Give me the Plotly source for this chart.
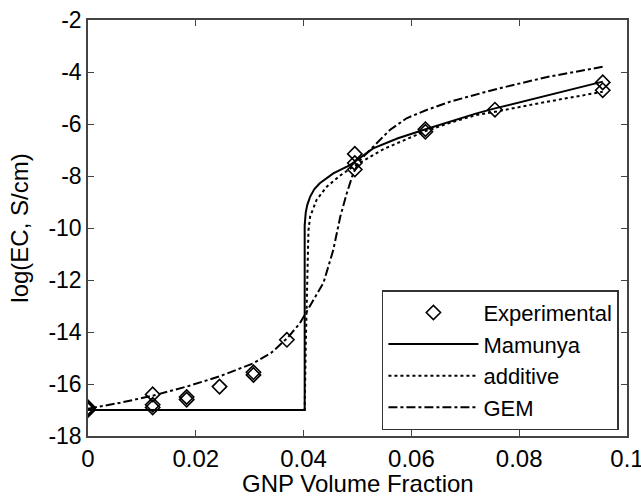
import plotly.graph_objects as go

# Experimental data (several overlapping measurements at each fraction)
exp_x = [0, 0, 0, 0.012, 0.012, 0.012, 0.0183, 0.0183, 0.0244, 0.0307, 0.0307,
         0.0369, 0.0495, 0.0495, 0.0495, 0.0626, 0.0626, 0.0755, 0.0955, 0.0955]
exp_y = [-16.9, -17.0, -16.95, -16.4, -16.8, -16.9, -16.5, -16.6, -16.1, -15.55, -15.65,
         -14.3, -7.15, -7.5, -7.75, -6.2, -6.3, -5.45, -4.4, -4.7]

# Mamunya model
mam_x = [0, 0.0402, 0.0402, 0.0404, 0.0407, 0.0412, 0.042, 0.043, 0.0455, 0.0468, 0.0486,
         0.0529, 0.0575, 0.0622, 0.0672, 0.0721, 0.0755, 0.085, 0.0955]
mam_y = [-17.0, -17.0, -9.9, -9.4, -9.1, -8.8, -8.5, -8.28, -7.9, -7.77, -7.58,
         -6.94, -6.55, -6.23, -5.9, -5.59, -5.4, -4.9, -4.37]

# Additive model
add_x = [0, 0.0402, 0.0404, 0.0406, 0.0407, 0.0409, 0.0412, 0.0424, 0.0443, 0.0468, 0.0492,
         0.055, 0.0625, 0.0672, 0.0721, 0.0755, 0.085, 0.0955]
add_y = [-17.0, -17.0, -14.5, -12.1, -10.85, -10.1, -9.57, -8.92, -8.41, -7.98, -7.64,
         -6.95, -6.28, -5.95, -5.65, -5.53, -5.15, -4.76]

# GEM model
gem_x = [0, 0.006, 0.012, 0.0183, 0.0245, 0.0307, 0.034, 0.0369, 0.0393, 0.0418, 0.0437,
         0.0455, 0.0468, 0.048, 0.0492, 0.0505, 0.0529, 0.056, 0.0591, 0.0628, 0.0672,
         0.0721, 0.0755, 0.085, 0.0955]
gem_y = [-16.95, -16.72, -16.45, -16.1, -15.7, -15.2, -14.8, -14.25, -13.67, -12.77, -12.1,
         -10.85, -9.57, -8.67, -7.9, -7.38, -6.87, -6.23, -5.78, -5.46, -5.14,
         -4.88, -4.67, -4.2, -3.8]

x_ticks = [0, 0.02, 0.04, 0.06, 0.08, 0.1]
x_labels = ["0", "0.02", "0.04", "0.06", "0.08", "0.1"]
y_ticks = [-18, -16, -14, -12, -10, -8, -6, -4, -2]
y_labels = ["-18", "-16", "-14", "-12", "-10", "-8", "-6", "-4", "-2"]
x_title = "GNP Volume Fraction"
y_title = "log(EC, S/cm)"

FONT = "Liberation Sans, Arial, Helvetica, sans-serif"

fig = go.Figure()
fig.add_trace(go.Scatter(x=exp_x, y=exp_y, mode="markers", name="Experimental",
                         marker=dict(symbol="diamond-open", size=11,
                                     color="black", line=dict(width=1.6, color="black"))))
fig.add_trace(go.Scatter(x=mam_x, y=mam_y, mode="lines", name="Mamunya",
                         line=dict(color="black", width=2)))
fig.add_trace(go.Scatter(x=add_x, y=add_y, mode="lines", name="additive",
                         line=dict(color="black", width=2, dash="dot")))
fig.add_trace(go.Scatter(x=gem_x, y=gem_y, mode="lines", name="GEM",
                         line=dict(color="black", width=2, dash="dashdot")))

axis_common = dict(showgrid=False, zeroline=False, showline=True, linecolor="#444",
                   linewidth=1.5, mirror="ticks", ticks="inside", ticklen=6,
                   tickcolor="#444", tickwidth=1.2, ticklabeloverflow="allow",
                   automargin=False)

fig.update_xaxes(range=[0, 0.1], tickvals=x_ticks, ticktext=x_labels,
                 tickfont=dict(family=FONT, size=24, color="black"),
                 **axis_common)
fig.update_yaxes(range=[-18, -2], tickvals=y_ticks, ticktext=y_labels,
                 tickfont=dict(family=FONT, size=23, color="black"),
                 title=dict(text=y_title, font=dict(family=FONT, size=24, color="black"),
                            standoff=13),
                 **axis_common)

# x-axis title placed as paper annotation so it can sit lower than the clamped title
fig.add_annotation(text=x_title, xref="paper", yref="paper", x=0.5, y=-0.077,
                   xanchor="center", yanchor="top", showarrow=False,
                   font=dict(family=FONT, size=24, color="black"))

fig.update_layout(
    width=641, height=496,
    margin=dict(l=88, r=14, t=20, b=60),
    paper_bgcolor="white", plot_bgcolor="white",
    showlegend=True,
    legend=dict(x=0.985, y=0.014, xanchor="right", yanchor="bottom",
                bgcolor="white", bordercolor="#333", borderwidth=1.5,
                font=dict(family=FONT, size=22, color="black"),
                itemwidth=90, tracegroupgap=0),
)

fig.write_html("out.html")
